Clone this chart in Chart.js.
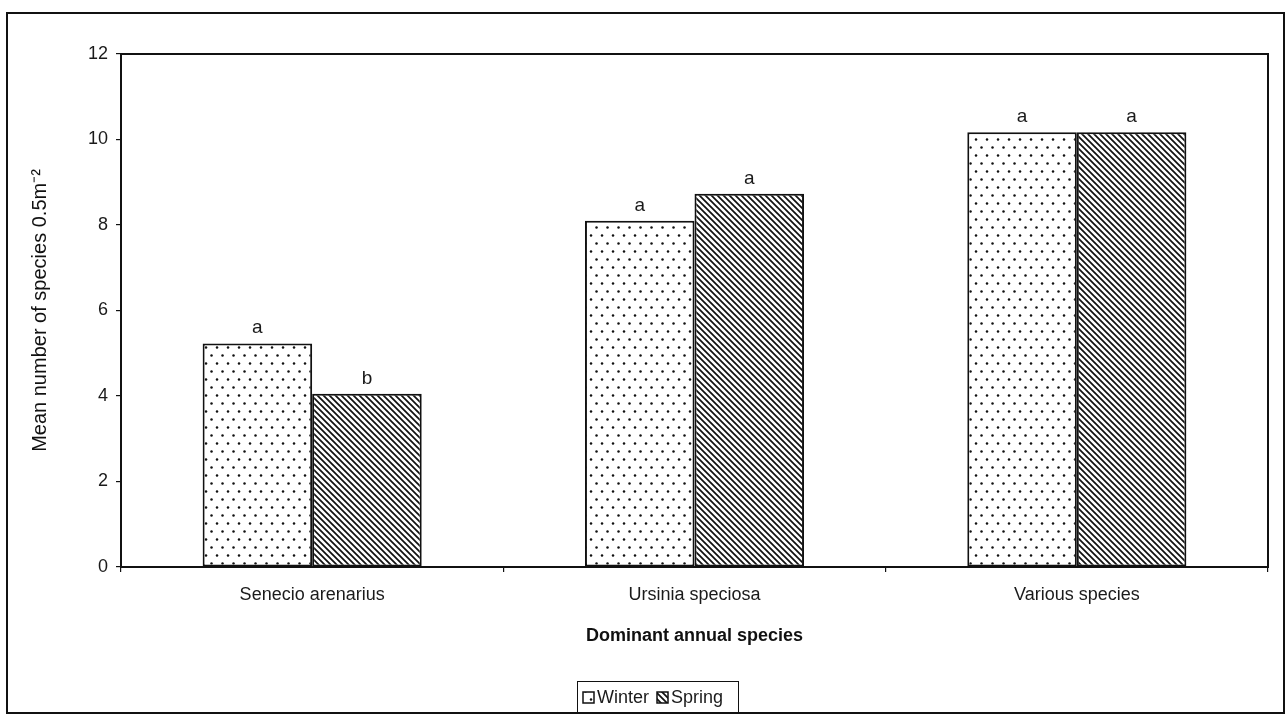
<!DOCTYPE html>
<html>
<head>
<meta charset="utf-8">
<title>Mean number of species</title>
<script src="https://cdn.jsdelivr.net/npm/chart.js@4.4.0/dist/chart.umd.min.js"></script>
<style>
  html, body { margin: 0; padding: 0; background: #fff; }
  #wrap { width: 1287px; height: 719px; }
</style>
</head>
<body>
<div id="wrap"><canvas id="chart" width="1287" height="719"></canvas></div>
<script>
// data
const categories = ['Senecio arenarius', 'Ursinia speciosa', 'Various species'];
const winterValues = [5.23, 8.1, 10.17];
const springValues = [4.05, 8.73, 10.17];
const winterLetters = ['a', 'a', 'a'];
const springLetters = ['b', 'a', 'a'];
const yTicks = [0, 2, 4, 6, 8, 10, 12];

const FONT = '"Liberation Sans", Arial, Helvetica, sans-serif';

// fill patterns like the printed figure
function dotPattern() {
    const c = document.createElement('canvas');
    c.width = 11; c.height = 16;
    const g = c.getContext('2d');
    g.fillStyle = '#fff';
    g.fillRect(0, 0, 11, 16);
    g.fillStyle = '#111';
    [[2.5, 3.5], [8, 11.5]].forEach(p => {
        g.beginPath();
        g.arc(p[0], p[1], 1.25, 0, Math.PI * 2);
        g.fill();
    });
    return g.createPattern(c, 'repeat');
}

function hatchPattern() {
    const s = 6;
    const c = document.createElement('canvas');
    c.width = s; c.height = s;
    const g = c.getContext('2d');
    g.fillStyle = '#fff';
    g.fillRect(0, 0, s, s);
    g.strokeStyle = '#111';
    g.lineWidth = 1.7;
    g.beginPath();
    g.moveTo(-1, -1); g.lineTo(s + 1, s + 1);
    g.moveTo(-1, s - 1); g.lineTo(1, s + 1);
    g.moveTo(s - 1, -1); g.lineTo(s + 1, 1);
    g.stroke();
    return g.createPattern(c, 'repeat');
}

const winterFill = dotPattern();
const springFill = hatchPattern();

const decor = {
    id: 'decor',
    beforeDraw(chart) {
        const ctx = chart.ctx;
        ctx.save();
        ctx.fillStyle = '#fff';
        ctx.fillRect(0, 0, chart.width, chart.height);
        ctx.restore();
    },
    afterDatasetsDraw(chart) {
        const ctx = chart.ctx;
        const letters = [winterLetters, springLetters];
        ctx.save();
        ctx.fillStyle = '#1a1a1a';
        ctx.font = '19px ' + FONT;
        ctx.textAlign = 'center';
        ctx.textBaseline = 'alphabetic';
        chart.data.datasets.forEach((ds, i) => {
            chart.getDatasetMeta(i).data.forEach((bar, j) => {
                ctx.fillText(letters[i][j], bar.x, bar.y - 10);
            });
        });
        ctx.restore();
    },
    afterDraw(chart) {
        const ctx = chart.ctx;
        const a = chart.chartArea;
        ctx.save();
        ctx.strokeStyle = '#111';
        ctx.lineWidth = 2;
        ctx.strokeRect(a.left, a.top, a.right - a.left, a.bottom - a.top);
        // outer frame
        ctx.lineWidth = 2;
        ctx.strokeRect(7, 13, 1277, 700);

        // legend with border
        ctx.lineWidth = 1;
        ctx.strokeRect(577.5, 681.5, 161, 32);
        ctx.font = '18px ' + FONT;
        ctx.textBaseline = 'middle';
        let x = 583;
        chart.data.datasets.forEach(ds => {
            ctx.fillStyle = ds.backgroundColor;
            ctx.fillRect(x, 692, 11, 11);
            ctx.lineWidth = 1.5;
            ctx.strokeRect(x, 692, 11, 11);
            ctx.fillStyle = '#1a1a1a';
            ctx.fillText(ds.label, x + 14, 698);
            x += 14 + ctx.measureText(ds.label).width + 8;
        });
        ctx.restore();
    }
};

new Chart(document.getElementById('chart'), {
    type: 'bar',
    data: {
        labels: categories,
        datasets: [
            { label: 'Winter', data: winterValues, backgroundColor: winterFill, borderColor: '#111', borderWidth: 2, borderSkipped: false },
            { label: 'Spring', data: springValues, backgroundColor: springFill, borderColor: '#111', borderWidth: 2, borderSkipped: false }
        ]
    },
    options: {
        responsive: false,
        animation: false,
        categoryPercentage: 0.573,
        barPercentage: 1.0,
        layout: { padding: { top: 54, right: 19, bottom: 72, left: 0 } },
        plugins: {
            legend: { display: false },
            tooltip: { enabled: false }
        },
        scales: {
            x: {
                grid: { display: true, drawOnChartArea: false, offset: true, tickLength: 5, color: '#111', lineWidth: 1.2 },
                border: { color: '#111', width: 2 },
                ticks: { color: '#1a1a1a', font: { family: FONT, size: 18 }, padding: 12 },
                title: { display: true, text: 'Dominant annual species', color: '#111', font: { family: FONT, size: 18, weight: 'bold' }, padding: 0 },
                afterFit(scale) { scale.height = 80; }
            },
            y: {
                min: 0,
                max: 12,
                afterBuildTicks(scale) { scale.ticks = yTicks.map(v => ({ value: v })); },
                grid: { display: true, drawOnChartArea: false, tickLength: 5, color: '#111', lineWidth: 1.2 },
                border: { color: '#111', width: 2 },
                ticks: { color: '#1a1a1a', font: { family: FONT, size: 18 }, padding: 8 },
                title: { display: true, text: 'Mean number of species 0.5m\u207B\u00B2', color: '#111', font: { family: FONT, size: 20 }, padding: { top: 28, bottom: 0 } },
                afterFit(scale) { scale.width = 121; }
            }
        }
    },
    plugins: [decor]
});
</script>
</body>
</html>
